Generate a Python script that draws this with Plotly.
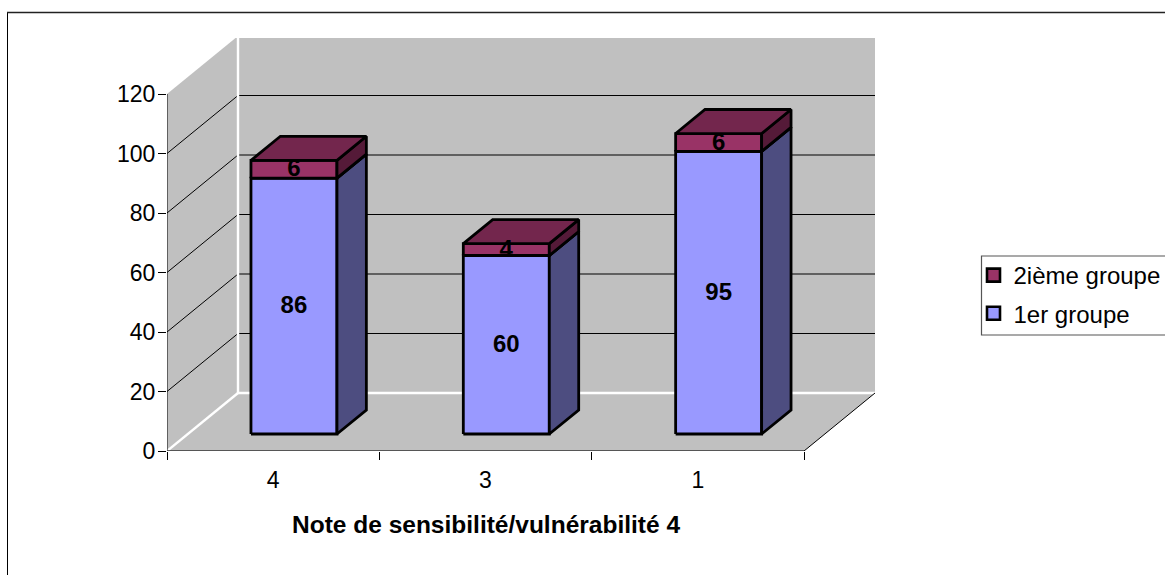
import plotly.graph_objects as go

categories = ["4", "3", "1"]
group1_name = "1er groupe"
group2_name = "2ième groupe"
group1_values = [86, 60, 95]
group2_values = [6, 4, 6]
y_ticks = [0, 20, 40, 60, 80, 100, 120]
x_title = "Note de sensibilité/vulnérabilité 4"

W, H = 1165, 575
ML, MT, PW, PH = 167, 38, 708, 413
PX_X = 637 / 3
PX_Y = 357 / 120
DEPTH_X = 71 / PX_X
DEPTH_Y = 58 / PX_Y
BAR_HALF = 0.2025
D0, D1 = 0.293, 0.707
FONT = "Liberation Sans, Arial, sans-serif"
GREY = "#C0C0C0"
LABEL_NUDGE = 0.4


def pt(x, v, d):
    return x + d * DEPTH_X, v + d * DEPTH_Y


def poly(points, fill, line="black", lw=2.8):
    xs = [p[0] for p in points] + [points[0][0]]
    ys = [p[1] for p in points] + [points[0][1]]
    return go.Scatter(x=xs, y=ys, mode="lines", fill="toself", fillcolor=fill,
                      line=dict(color=line, width=lw), hoverinfo="skip",
                      showlegend=False, cliponaxis=False)


def seg(p0, p1, color="black", lw=1):
    return go.Scatter(x=[p0[0], p1[0]], y=[p0[1], p1[1]], mode="lines",
                      line=dict(color=color, width=lw), hoverinfo="skip",
                      showlegend=False, cliponaxis=False)


L, R = -0.5, 2.5
Vtop = y_ticks[-1]
fig = go.Figure()

# walls and floor
fig.add_trace(poly([pt(L, 0, 1), pt(R, 0, 1), pt(R, Vtop, 1), pt(L, Vtop, 1)], GREY, GREY, 0))
fig.add_trace(poly([pt(L, 0, 0), pt(L, 0, 1), pt(L, Vtop, 1), pt(L, Vtop, 0)], GREY, GREY, 0))
fig.add_trace(poly([pt(L, 0, 0), pt(R, 0, 0), pt(R, 0, 1), pt(L, 0, 1)], GREY, GREY, 0))

# gridlines
for v in y_ticks[1:-1]:
    fig.add_trace(seg(pt(L, v, 0), pt(L, v, 1)))
    fig.add_trace(seg(pt(L, v, 1), pt(R, v, 1)))

# white wall edges
fig.add_trace(seg(pt(L, 0, 0), pt(L, 0, 1), "white", 2.4))
fig.add_trace(seg(pt(L, 0, 1), pt(R, 0, 1), "white", 2.4))
fig.add_trace(seg(pt(L, 0, 1), pt(L, Vtop, 1), "white", 2.4))

# axis lines and floor edge
fig.add_trace(seg(pt(L, 0, 0), pt(L, Vtop, 0), "black", 1))
fig.add_trace(seg(pt(L, 0, 0), pt(R, 0, 0), "#333333", 1.6))
fig.add_trace(seg(pt(R, 0, 0), pt(R, 0, 1), "black", 1))

# stacked bars
label_x, label_y, label_t = [], [], []
for i in range(len(categories)):
    base = 0
    for val, face, side, top in (
        (group1_values[i], "#9999FF", "#4D4D80", "#4D4D80"),
        (group2_values[i], "#993366", "#551A38", "#73264D"),
    ):
        a, b = i - BAR_HALF, i + BAR_HALF
        t = base + val
        fig.add_trace(poly([pt(a, base, D0), pt(b, base, D0), pt(b, t, D0), pt(a, t, D0)], face))
        fig.add_trace(poly([pt(b, base, D0), pt(b, base, D1), pt(b, t, D1), pt(b, t, D0)], side))
        fig.add_trace(poly([pt(a, t, D0), pt(b, t, D0), pt(b, t, D1), pt(a, t, D1)], top))
        mx, my = pt(i, base + val / 2 - LABEL_NUDGE, D0)
        label_x.append(mx)
        label_y.append(my)
        label_t.append(str(val))
        base = t

fig.add_trace(go.Scatter(x=label_x, y=label_y, text=label_t, mode="text",
                         textposition="middle center", hoverinfo="skip", showlegend=False,
                         textfont=dict(family=FONT, size=24, color="black"),
                         texttemplate="<b>%{text}</b>", cliponaxis=False))

# legend entries
for name, color, group in ((group2_name, "#993366", "a"), (group1_name, "#9999FF", "b")):
    fig.add_trace(go.Scatter(x=[None], y=[None], mode="markers", name=name, legendgroup=group,
                             marker=dict(symbol="square", size=13, color=color,
                                         line=dict(color="black", width=2.6))))


def px(x):
    return (x - ML) / PW


def py(y):
    return (MT + PH - y) / PH


fig.update_layout(
    width=W, height=H, margin=dict(l=ML, r=W - ML - PW, t=MT, b=H - MT - PH, autoexpand=False),
    paper_bgcolor="white", plot_bgcolor="white",
    font=dict(family=FONT, size=24, color="black"),
    xaxis=dict(range=[L, L + PW / PX_X], showgrid=False, zeroline=False, showline=False,
               tickmode="array", tickvals=list(range(len(categories))), ticktext=categories,
               ticks="", ticklabelstandoff=13, tickfont=dict(size=23),
               minor=dict(tickmode="array", tickvals=[-0.5, 0.5, 1.5, 2.5], ticks="outside",
                          ticklen=8, tickcolor="black", tickwidth=1, showgrid=False),
               fixedrange=True),
    yaxis=dict(range=[0, PH / PX_Y], showgrid=False, zeroline=False, showline=False,
               tickmode="array", tickvals=y_ticks, ticks="outside", ticklen=8,
               tickcolor="black", tickwidth=1, fixedrange=True,
               tickfont=dict(size=23), ticklabelstandoff=-2),
    legend=dict(x=px(973.5), y=py(253), xanchor="left", yanchor="top", traceorder="grouped",
                tracegroupgap=4, bgcolor="rgba(0,0,0,0)", font=dict(size=24),
                itemclick=False, itemdoubleclick=False),
    annotations=[
        dict(text="<b>" + x_title + "</b>", xref="paper", yref="paper", x=px(485.5), y=py(524),
             xanchor="center", yanchor="middle", showarrow=False, font=dict(size=24.5)),
    ],
    shapes=[
        dict(type="line", xref="paper", yref="paper", x0=px(7.5), x1=px(7.5), y0=py(12.5), y1=py(590),
             line=dict(color="black", width=1)),
        dict(type="line", xref="paper", yref="paper", x0=px(7), x1=px(1180), y0=py(12.5), y1=py(12.5),
             line=dict(color="#222222", width=1.3)),
        dict(type="rect", xref="paper", yref="paper", x0=px(981.5), x1=px(1180), y0=py(256), y1=py(335),
             line=dict(color="#555555", width=1.2)),
    ],
)

fig.write_html("out.html", config={"displayModeBar": False},
               post_script="document.body.style.margin='0';")
